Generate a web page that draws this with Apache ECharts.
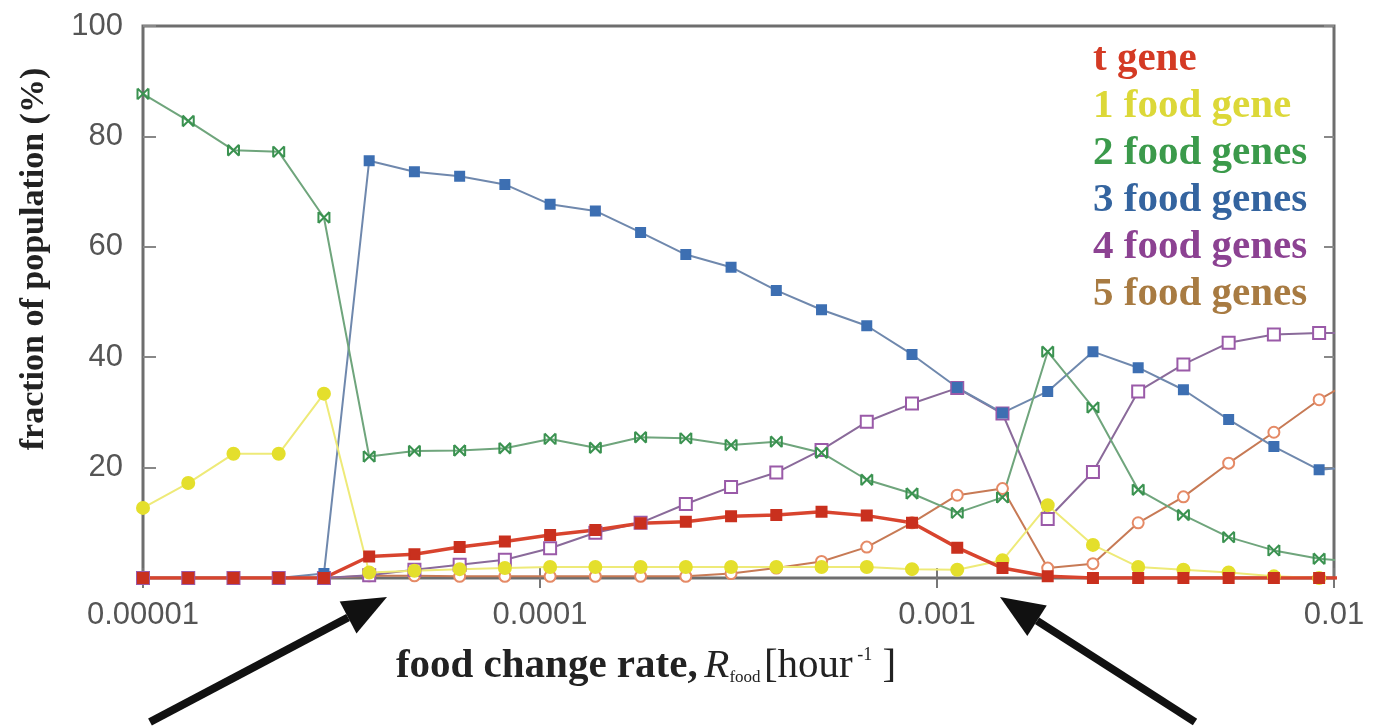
<!DOCTYPE html>
<html>
<head>
<meta charset="utf-8">
<script src="https://cdn.jsdelivr.net/npm/echarts@6/dist/echarts.min.js"></script>
<style>
  html, body { margin: 0; padding: 0; background: #fff; }
  #chart { width: 1375px; height: 728px; }
</style>
</head>
<body>
<div id="chart"></div>
<script>
// food change rate (hour^-1), one run every factor 1.3
const rates = [1.0e-5, 1.3e-5, 1.69e-5, 2.197e-5, 2.856e-5, 3.713e-5, 4.827e-5, 6.275e-5,
  8.157e-5, 1.0604e-4, 1.3786e-4, 1.7922e-4, 2.3298e-4, 3.0288e-4, 3.9374e-4, 5.1186e-4,
  6.6542e-4, 8.6504e-4, 1.12455e-3, 1.46192e-3, 1.9005e-3, 2.47065e-3, 3.21184e-3,
  4.17539e-3, 5.42801e-3, 7.05641e-3, 9.17333e-3, 1.19253e-2]

const tGene     = [0, 0, 0, 0, 0, 3.9, 4.3, 5.6, 6.6, 7.8, 8.7, 9.9, 10.2, 11.2, 11.4, 12.0, 11.3, 10.0, 5.5, 1.8, 0.3, 0, 0, 0, 0, 0, 0, 0]
const oneFood   = [12.7, 17.2, 22.5, 22.5, 33.4, 1.0, 1.3, 1.6, 1.8, 2.0, 2.0, 2.0, 2.0, 2.0, 2.0, 2.0, 2.0, 1.6, 1.5, 3.2, 13.2, 6.0, 2.0, 1.5, 1.0, 0.3, 0, 0]
const twoFood   = [87.7, 82.8, 77.5, 77.2, 65.3, 22.0, 23.0, 23.1, 23.5, 25.2, 23.6, 25.5, 25.3, 24.1, 24.7, 22.7, 17.8, 15.3, 11.8, 14.6, 41.0, 30.9, 16.0, 11.4, 7.4, 5.0, 3.5, 2.8]
const threeFood = [0, 0, 0, 0, 0.8, 75.6, 73.6, 72.8, 71.3, 67.7, 66.5, 62.6, 58.6, 56.3, 52.1, 48.6, 45.7, 40.5, 34.5, 29.9, 33.8, 41.0, 38.1, 34.1, 28.7, 23.8, 19.6, 20.3]
const fourFood  = [0, 0, 0, 0, 0, 0.5, 1.5, 2.4, 3.3, 5.4, 8.2, 10.0, 13.4, 16.5, 19.1, 23.2, 28.3, 31.6, 34.4, 29.8, 10.7, 19.2, 33.8, 38.7, 42.6, 44.1, 44.4, 44.3]
const fiveFood  = [0, 0, 0, 0, 0, 0.4, 0.4, 0.3, 0.3, 0.3, 0.3, 0.3, 0.3, 0.8, 1.8, 3.0, 5.6, 10.0, 15.0, 16.2, 1.8, 2.6, 10.0, 14.7, 20.8, 26.4, 32.3, 37.0]

const xTickLabels = ['0.00001', '0.0001', '0.001', '0.01']

const chart = echarts.init(document.getElementById('chart'))

const serif = "'Liberation Serif', 'DejaVu Serif', serif"
const sans = "'Liberation Sans', Arial, sans-serif"

const pairs = (vals) => vals.map((v, i) => [rates[i], v])

const mkSeries = (name, vals, color, lineColor, symbol, size, extra = {}) => ({
  name,
  type: 'line',
  data: pairs(vals),
  symbol,
  symbolSize: size,
  clip: true,
  lineStyle: { color: lineColor, width: 2 },
  itemStyle: { color, borderColor: color, borderWidth: 2 },
  emphasis: { disabled: true },
  ...extra
})

// little helper for the two black arrows under the axis
const arrow = (x1, y1, x2, y2) => {
  const ang = Math.atan2(y2 - y1, x2 - x1)
  const len = 44, half = 18
  const bx = x2 - len * Math.cos(ang), by = y2 - len * Math.sin(ang)
  const nx = -Math.sin(ang), ny = Math.cos(ang)
  return [
    { type: 'line', shape: { x1, y1, x2: bx, y2: by }, style: { stroke: '#111', lineWidth: 8 } },
    { type: 'polygon', shape: { points: [[x2, y2], [bx + nx * half, by + ny * half], [bx - nx * half, by - ny * half]] }, style: { fill: '#111' } }
  ]
}

const option = {
  animation: false,
  backgroundColor: '#fff',
  grid: {
    left: 143, right: 41, top: 26, bottom: 150,
    show: true, borderColor: '#6e6e6e', borderWidth: 3, backgroundColor: 'transparent'
  },
  legend: {
    orient: 'vertical',
    left: 1082,
    top: 34,
    itemWidth: 0,
    itemHeight: 0,
    itemGap: 6,
    icon: 'rect',
    selectedMode: false,
    textStyle: { fontFamily: serif, fontWeight: 'bold', fontSize: 41, lineHeight: 35 },
    data: [
      { name: 't gene', textStyle: { color: '#d43a24' } },
      { name: '1 food gene', textStyle: { color: '#dcd838' } },
      { name: '2 food genes', textStyle: { color: '#3b9a4b' } },
      { name: '3 food genes', textStyle: { color: '#34649f' } },
      { name: '4 food genes', textStyle: { color: '#8c4292' } },
      { name: '5 food genes', textStyle: { color: '#a87b42' } }
    ]
  },
  xAxis: [
    {
      type: 'log', logBase: 10, min: 1e-5, max: 0.01,
      axisLine: { show: false },
      axisTick: { show: true, inside: true, length: 10, lineStyle: { color: '#777', width: 2 } },
      minorTick: { show: false },
      splitLine: { show: false },
      axisLabel: {
        margin: 22,
        fontFamily: sans, fontSize: 31, color: '#555',
        formatter: (v) => xTickLabels[Math.round(Math.log10(v)) + 5] || ''
      }
    },
    {
      type: 'log', logBase: 10, min: 1e-5, max: 0.01, position: 'top',
      axisLine: { show: false },
      axisTick: { show: true, inside: true, length: 10, lineStyle: { color: '#777', width: 2 } },
      splitLine: { show: false },
      axisLabel: { show: false }
    }
  ],
  yAxis: [
    {
      type: 'value', min: 0, max: 100, interval: 20,
      axisLine: { show: false },
      axisTick: { show: true, inside: true, length: 13, lineStyle: { color: '#888', width: 2 } },
      splitLine: { show: false },
      axisLabel: {
        margin: 20, fontFamily: sans, fontSize: 31, color: '#555',
        formatter: (v) => (v === 0 ? '' : String(v))
      }
    },
    {
      type: 'value', min: 0, max: 100, interval: 20, position: 'right',
      axisLine: { show: false },
      axisTick: { show: true, inside: true, length: 10, lineStyle: { color: '#888', width: 2 } },
      splitLine: { show: false },
      axisLabel: { show: false }
    }
  ],
  series: [
    mkSeries('5 food genes', fiveFood, '#e58a66', '#c77a55', 'emptyCircle', 11),
    mkSeries('4 food genes', fourFood, '#9a5aa8', '#8a6a9a', 'emptyRect', 12),
    mkSeries('3 food genes', threeFood, '#3d6fb2', '#6f88ad', 'rect', 9),
    mkSeries('2 food genes', twoFood, '#3a9250', '#6fa57c', 'path://M0,0L10,10M10,0L0,10M0,0L0,10M10,0L10,10', 11),
    mkSeries('1 food gene', oneFood, '#e4df2c', '#eeea78', 'circle', 12),
    mkSeries('t gene', tGene, '#c9301e', '#d8442e', 'rect', 10, { lineStyle: { color: '#d8442e', width: 3.5 } })
  ],
  graphic: [
    {
      type: 'text', x: 34, y: 259, rotation: Math.PI / 2,
      style: {
        text: 'fraction of population (%)',
        font: "bold 34px " + serif, fill: '#222',
        align: 'center', verticalAlign: 'middle'
      }
    },
    {
      type: 'text', x: 646, y: 666,
      style: {
        text: '{b|food change rate,}  {i|R}{s|food} {n|[hour}{p| -1}{n| ]}',
        align: 'center', verticalAlign: 'middle', fill: '#222',
        rich: {
          b: { fontFamily: serif, fontWeight: 'bold', fontSize: 41, fill: '#222' },
          i: { fontFamily: serif, fontStyle: 'italic', fontSize: 41, fill: '#222' },
          s: { fontFamily: serif, fontSize: 17, fill: '#222', padding: [24, 0, 0, 0] },
          n: { fontFamily: serif, fontSize: 41, fill: '#222' },
          p: { fontFamily: serif, fontSize: 18, fill: '#222', padding: [0, 0, 22, 0] }
        }
      }
    },
    ...arrow(150, 722, 387, 597),
    ...arrow(1195, 722, 1000, 597)
  ]
}

chart.setOption(option)
</script>
</body>
</html>
